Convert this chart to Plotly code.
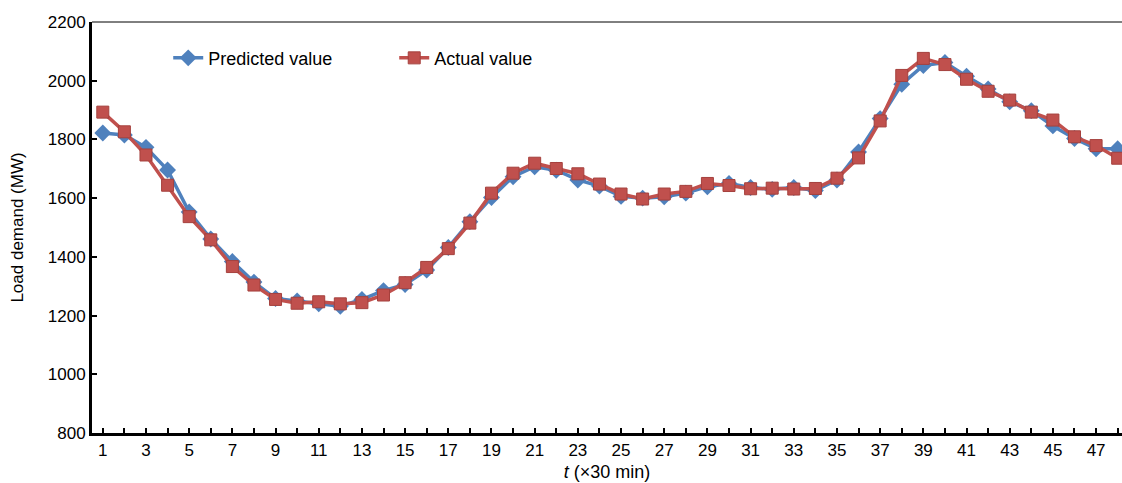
import plotly.graph_objects as go

t = list(range(1, 49))
predicted = [1822, 1815, 1773, 1696, 1553, 1461, 1384, 1314, 1258, 1250, 1240, 1232,
             1255, 1285, 1306, 1355, 1432, 1520, 1602, 1673, 1707, 1695, 1662, 1641,
             1606, 1600, 1605, 1617, 1639, 1650, 1636, 1630, 1636, 1626, 1662, 1757,
             1871, 1988, 2052, 2062, 2015, 1972, 1928, 1898, 1846, 1803, 1768, 1768]
actual = [1893, 1826, 1747, 1644, 1537, 1458, 1367, 1304, 1255, 1242, 1247, 1240,
          1244, 1270, 1312, 1364, 1428, 1515, 1617, 1685, 1719, 1701, 1683, 1648,
          1614, 1597, 1614, 1623, 1650, 1643, 1632, 1634, 1631, 1633, 1668, 1737,
          1863, 2018, 2076, 2055, 2005, 1964, 1934, 1893, 1866, 1809, 1779, 1736]
x_tick_vals = list(range(1, 49))
x_tick_text = [str(v) if v % 2 == 1 else "" for v in x_tick_vals]
y_tick_vals = [800, 1000, 1200, 1400, 1600, 1800, 2000, 2200]

BLUE = "#4F81BD"
RED = "#C0504D"
FONT = "Liberation Sans, Arial, sans-serif"

fig = go.Figure()
fig.add_trace(go.Scatter(x=t, y=predicted, name="Predicted value", mode="lines+markers",
                         line=dict(color=BLUE, width=3.5),
                         marker=dict(symbol="diamond", size=13, color=BLUE)))
fig.add_trace(go.Scatter(x=t, y=actual, name="Actual value", mode="lines+markers",
                         line=dict(color=RED, width=3.5),
                         marker=dict(symbol="square", size=12, color=RED,
                                     line=dict(color="#A5403D", width=1))))

fig.update_layout(
    width=1122, height=483,
    margin=dict(l=92, r=0, t=22, b=50),
    paper_bgcolor="white", plot_bgcolor="white",
    font=dict(family=FONT, size=18, color="black"),
    showlegend=True,
    legend=dict(orientation="h", x=0.074, y=0.912, xanchor="left", yanchor="middle",
                bgcolor="rgba(0,0,0,0)", font=dict(size=18), entrywidth=181),
    xaxis=dict(range=[0.5, 48.2], tickmode="array", tickvals=x_tick_vals, ticktext=x_tick_text,
               ticks="inside", ticklen=5, tickwidth=1.5, tickcolor="black",
               showline=True, linecolor="black", linewidth=3, showgrid=False, zeroline=False,
               tickfont=dict(size=17),
               title=dict(text="<i>t</i> (×30 min)", font=dict(size=18), standoff=6)),
    yaxis=dict(range=[800, 2200], tickmode="array", tickvals=y_tick_vals,
               ticks="inside", ticklen=5, tickwidth=1.5, tickcolor="black",
               showline=True, linecolor="black", linewidth=3, showgrid=False, zeroline=False,
               tickfont=dict(size=17),
               title=dict(text="Load demand (MW)", font=dict(size=17), standoff=20)),
)
fig.add_shape(type="line", xref="paper", yref="paper", x0=0, x1=1, y0=1, y1=1,
              line=dict(color="black", width=1))

fig.write_html("out.html")
